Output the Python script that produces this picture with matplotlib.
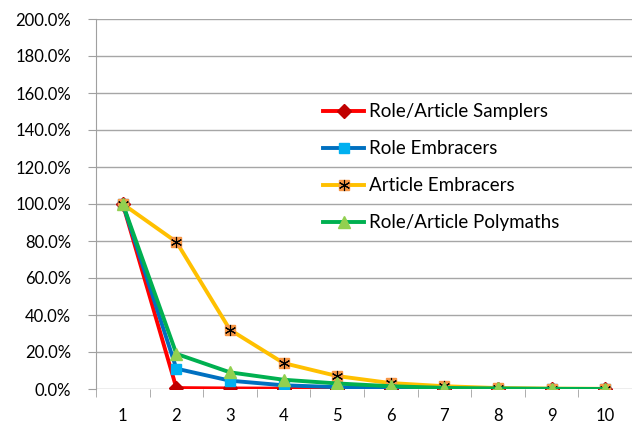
import matplotlib
matplotlib.use("Agg")
import matplotlib.pyplot as plt
from matplotlib.ticker import FuncFormatter, MultipleLocator
from matplotlib.legend_handler import HandlerTuple

plt.rcParams['font.family'] = ['Lato', 'DejaVu Sans']

# x categories and the four retention series (percent)
steps = [1, 2, 3, 4, 5, 6, 7, 8, 9, 10]
samplers = [100, 0.5, 0.3, 0.2, 0.1, 0.0, 0.0, 0.0, 0.0, 0.0]
role_emb = [100, 11, 4.5, 2.0, 1.0, 0.5, 0.2, 0.1, 0.0, 0.0]
article_emb = [100, 79.5, 32, 14, 7, 3.2, 1.5, 0.5, 0.2, 0.1]
polymaths = [100, 19, 9, 5, 3, 1.5, 0.6, 0.3, 0.1, 0.0]

fig = plt.figure(figsize=(6.32, 4.26), dpi=100)
ax = fig.add_axes([96 / 632, 1 - 389 / 426, 536 / 632, 370 / 426])

l1, = ax.plot(steps, samplers, color='#ff0000', lw=2.8, marker='D', ms=7,
              mfc='#c00000', mec='#c00000', zorder=3)
l2, = ax.plot(steps, role_emb, color='#0070c0', lw=2.8, marker='s', ms=7,
              mfc='#00b0f0', mec='#00b0f0', zorder=4)
l3, = ax.plot(steps, article_emb, color='#ffc000', lw=2.8, marker='s', ms=7.5,
              mfc='#f79646', mec='#f79646', zorder=5)
l3b, = ax.plot(steps, article_emb, ls='none', marker=(6, 2, 0), ms=8,
               mec='black', mew=0.8, zorder=6)
l4, = ax.plot(steps, polymaths, color='#00b050', lw=2.8, marker='^', ms=8,
              mfc='#92d050', mec='#92d050', zorder=7)

ax.set_xlim(0.5, 10.5)
ax.set_ylim(0, 200)
ax.yaxis.set_major_locator(MultipleLocator(20))
ax.yaxis.set_major_formatter(FuncFormatter(lambda v, p: f"{v:.1f}%"))
ax.set_xticks(steps)
ax.set_xticks([s + 0.5 for s in range(0, 11)], minor=True)
ax.tick_params(axis='x', which='major', length=0, pad=14, labelsize=12)
ax.tick_params(axis='x', which='minor', length=6, direction='out', color='#a0a0a0')
ax.tick_params(axis='y', length=6, direction='out', color='#a0a0a0', labelsize=12, pad=12)
ax.grid(axis='y', color='#a6a6a6', lw=1)
ax.set_axisbelow(True)
for side in ['top', 'right', 'bottom']:
    ax.spines[side].set_visible(False)
ax.spines['left'].set_color('#a0a0a0')

ax.legend([l1, l2, (l3, l3b), l4],
          ['Role/Article Samplers', 'Role Embracers', 'Article Embracers', 'Role/Article Polymaths'],
          handler_map={tuple: HandlerTuple(ndivide=1, pad=0)},
          loc='upper left', bbox_to_anchor=(0.392, 0.818), frameon=False,
          fontsize=13.5, labelspacing=1.07, handlelength=2.2, handletextpad=0.27)

fig.savefig('out.png', dpi=100)
